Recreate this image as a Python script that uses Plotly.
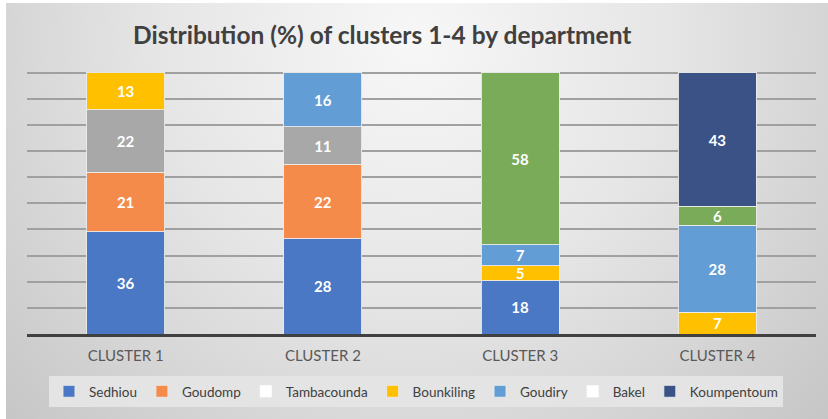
import base64
import plotly.graph_objects as go

categories = ["CLUSTER 1", "CLUSTER 2", "CLUSTER 3", "CLUSTER 4"]
series_names = ["Sedhiou", "Goudomp", "Tambacounda", "Bounkiling", "Goudiry", "Bakel", "Koumpentoum"]
sedhiou = [36, 28, 18, None]
goudomp = [21, 22, None, None]
tambacounda = [22, 11, None, None]
bounkiling = [13, None, 5, 7]
goudiry = [None, 16, 7, 28]
bakel = [None, None, 58, 6]
koumpentoum = [None, None, None, 43]
series_values = [sedhiou, goudomp, tambacounda, bounkiling, goudiry, bakel, koumpentoum]

bar_colors = ["#4A78C4", "#F58B4A", "#A8A8A8", "#FFC000", "#629DD5", "#79AB59", "#3A5286"]
legend_colors = ["#4A78C4", "#F58B4A", "#FFFFFF", "#FFC000", "#629DD5", "#FFFFFF", "#3A5286"]

FONT = "Lato"

W, H = 828, 419
ML, MR, MT, MB = 27, 12, 70, 85
PW, PH = W - ML - MR, H - MT - MB

fig = go.Figure()
for i, (name, vals) in enumerate(zip(series_names, series_values)):
    own_legend = bar_colors[i] == legend_colors[i]
    fig.add_trace(go.Bar(
        x=categories, y=vals, name=name,
        marker=dict(color=bar_colors[i], line=dict(color="rgba(235,235,235,0.9)", width=1)),
        text=vals, texttemplate="%{text}", textposition="inside",
        insidetextanchor="middle", constraintext="none", textangle=0,
        textfont=dict(family=FONT, size=15, color="white", weight="bold"),
        showlegend=own_legend, legendrank=(i + 1) * 10, legendgroup=name,
        hoverinfo="x+y+name",
    ))
    if not own_legend:
        fig.add_trace(go.Bar(
            x=[None], y=[None], name=name, legendgroup=name,
            marker=dict(color=legend_colors[i], line=dict(width=0)),
            showlegend=True, legendrank=(i + 1) * 10, hoverinfo="skip",
        ))

# background gradient (Excel style)
svg = f'''<svg xmlns="http://www.w3.org/2000/svg" width="822" height="416" viewBox="0 0 822 416" preserveAspectRatio="none">
<defs><radialGradient id="g" cx="408" cy="40" r="560" gradientUnits="userSpaceOnUse">
<stop offset="0" stop-color="#F7F7F7"/><stop offset="0.45" stop-color="#E6E6E6"/><stop offset="1" stop-color="#C6C6C6"/>
</radialGradient></defs><rect width="822" height="416" fill="url(#g)"/></svg>'''
src = "data:image/svg+xml;base64," + base64.b64encode(svg.encode()).decode()

px2x = lambda px: (px - ML) / PW
py2y = lambda py: (H - MB - py) / PH

fig.add_layout_image(dict(
    source=src, xref="paper", yref="paper",
    x=px2x(6), y=py2y(3), sizex=(W - 6) / PW, sizey=(H - 3) / PH,
    xanchor="left", yanchor="top", sizing="stretch", layer="below",
))

fig.update_layout(
    width=W, height=H,
    margin=dict(l=ML, r=MR, t=MT, b=MB, autoexpand=False),
    barmode="stack", barnorm="percent", bargap=0.604,
    paper_bgcolor="white", plot_bgcolor="rgba(0,0,0,0)",
    font=dict(family=FONT, color="#595959"),
    title=dict(text="<b>Distribution (%) of clusters 1-4 by department</b>",
               font=dict(family=FONT, size=24.5, color="#404040"),
               x=px2x(133), xref="paper", xanchor="left",
               y=1 - 35 / H, yref="container", yanchor="middle"),
    xaxis=dict(showline=True, linecolor="#404040", linewidth=3,
               tickfont=dict(family=FONT, size=15, color="#595959"),
               ticks="", ticklabelstandoff=6, showgrid=False, automargin=False),
    yaxis=dict(range=[0, 101], tick0=0, dtick=10, showgrid=True, gridcolor="#A0A0A0", gridwidth=1.5,
               showticklabels=False, zeroline=False, showline=False, ticks="", automargin=False),
    legend=dict(orientation="h", x=0.493, xanchor="center", y=py2y(376), yanchor="top",
                bgcolor="#E4E4E4", traceorder="normal",
                font=dict(family=FONT, size=13.5, color="#404040"),
                itemwidth=30, tracegroupgap=0),
    showlegend=True,
)

fig.write_html("out.html", config={"displayModeBar": False},
               post_script="document.body.style.margin='0';document.body.style.overflow='hidden';")
